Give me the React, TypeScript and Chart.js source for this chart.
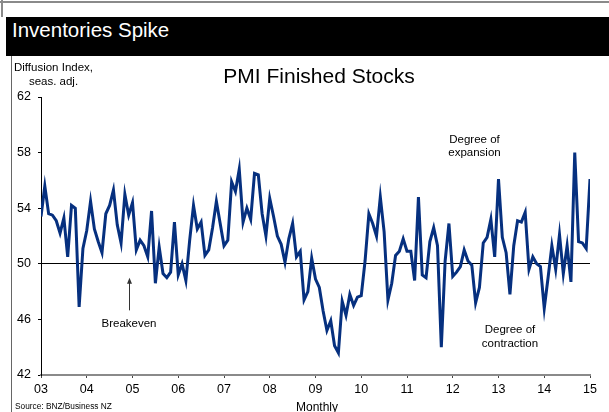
import React, { useEffect, useRef } from "react";
import { Chart, registerables } from "chart.js";

Chart.register(...registerables);

const yearLabels = ["03", "04", "05", "06", "07", "08", "09", "10", "11", "12", "13", "14", "15"];

// Monthly PMI finished stocks, Jan 2003 .. Jan 2015
const pmiFinishedStocks = [
  53.4, 55.6, 53.6, 53.5, 53.1, 52.2, 53.3, 50.5, 54.2, 54.0, 46.9, 51.1,
  52.4, 54.5, 52.5, 51.6, 50.8, 53.6, 54.2, 55.3, 52.8, 51.5, 55.0, 53.5,
  54.4, 51.0, 51.7, 51.3, 50.5, 53.8, 48.6, 51.2, 49.3, 49.0, 49.4, 53.0,
  49.2, 50.0, 48.8, 51.7, 54.2, 52.5, 53.0, 50.6, 51.0, 52.6, 54.5, 52.9,
  51.3, 51.7, 55.9, 55.2, 56.8, 53.0, 54.0, 53.2, 56.5, 56.4, 53.6, 52.0,
  54.7, 53.4, 52.0, 51.4, 50.1, 51.8, 52.9, 50.5, 50.9, 47.4, 48.0, 50.4,
  48.9, 48.3, 46.6, 45.2, 45.9, 44.1, 43.6, 47.3, 46.3, 47.8, 47.0, 47.6,
  47.7, 50.2, 53.6, 52.9, 52.0, 54.8, 52.3, 47.4, 48.6, 50.6, 50.9, 51.8,
  50.9, 50.9, 48.8, 54.8, 49.2, 49.0, 51.6, 52.6, 51.3, 44.0, 50.2, 52.9,
  49.1, 49.4, 49.8, 51.0, 50.2, 49.9, 47.2, 48.3, 51.5, 51.9, 53.2, 50.5,
  56.1, 51.9, 50.8, 47.8, 51.3, 53.1, 53.0, 53.7, 49.6, 50.5, 50.0, 49.8,
  46.8, 49.0, 51.3, 49.6, 52.1, 49.3, 51.3, 48.7, 58.0, 51.6, 51.5, 51.1,
  56.1,
];

const yMin = 42;
const yMax = 62;
const yStep = 4;
const breakeven = 50;

const FONT = "'Liberation Sans', Arial, sans-serif";

const arrowPlugin = {
  id: "breakevenArrow",
  afterDatasetsDraw(chart: any) {
    const { ctx, scales } = chart;
    const x = Math.round(scales.x.getPixelForValue(23)) + 0.5;
    const yTip = scales.y.getPixelForValue(49.0);
    const yEnd = scales.y.getPixelForValue(46.65);
    ctx.save();
    ctx.strokeStyle = "#333";
    ctx.fillStyle = "#333";
    ctx.lineWidth = 1;
    ctx.beginPath();
    ctx.moveTo(x, yEnd);
    ctx.lineTo(x, yTip + 4);
    ctx.stroke();
    ctx.beginPath();
    ctx.moveTo(x, yTip);
    ctx.lineTo(x - 2.5, yTip + 6);
    ctx.lineTo(x + 2.5, yTip + 6);
    ctx.closePath();
    ctx.fill();
    ctx.restore();
  },
};

function Txt(props: { left: number; top: number; size: number; width?: number; align?: string; color?: string; children: any }) {
  const w = props.width ?? 200;
  const left = props.align === "center" ? props.left - w / 2 : props.left;
  return (
    <div
      style={{
        position: "absolute",
        left,
        top: props.top,
        width: w,
        textAlign: (props.align as any) ?? "left",
        fontFamily: FONT,
        fontSize: props.size,
        lineHeight: `${props.size}px`,
        color: props.color ?? "#000",
        whiteSpace: "nowrap",
      }}
    >
      {props.children}
    </div>
  );
}

export default function App() {
  const canvasRef = useRef<HTMLCanvasElement | null>(null);

  useEffect(() => {
    if (!canvasRef.current) return;
    const chart = new Chart(canvasRef.current, {
      type: "line",
      data: {
        datasets: [
          {
            data: pmiFinishedStocks.map((v, i) => ({ x: i, y: v })),
            borderColor: "#06307f",
            borderWidth: 3,
            pointRadius: 0,
            tension: 0,
            fill: false,
          },
        ],
      },
      options: {
        animation: false,
        responsive: false,
        devicePixelRatio: 1,
        layout: { padding: { top: 41, right: 19, left: 0, bottom: 0 } },
        plugins: { legend: { display: false }, tooltip: { enabled: false }, title: { display: false } },
        scales: {
          x: {
            type: "linear",
            min: 0,
            max: (yearLabels.length - 1) * 12,
            afterFit: (s: any) => {
              s.height = 37;
            },
            ticks: {
              stepSize: 12,
              autoSkip: false,
              maxRotation: 0,
              padding: 4,
              color: "#000",
              font: { family: FONT, size: 12.5 },
              callback: (v: any) => yearLabels[Math.round(Number(v) / 12)] ?? "",
            },
            grid: { drawOnChartArea: false, drawTicks: true, tickLength: 3, tickColor: "#444" },
            border: { display: true, color: "#8a8a8a", width: 2 },
          },
          y: {
            min: yMin,
            max: yMax,
            afterFit: (s: any) => {
              s.width = 41;
            },
            ticks: {
              stepSize: yStep,
              padding: 7,
              color: "#000",
              font: { family: FONT, size: 12.5 },
            },
            grid: {
              drawOnChartArea: true,
              drawTicks: true,
              tickLength: 3,
              tickColor: "#000",
              color: (c: any) => (c.tick && c.tick.value === breakeven ? "#000" : "rgba(0,0,0,0)"),
              lineWidth: 1,
            },
            border: { display: true, color: "#000", width: 1 },
          },
        },
      },
      plugins: [arrowPlugin],
    });
    return () => chart.destroy();
  }, []);

  return (
    <div style={{ position: "absolute", left: 0, top: 0, width: 609, height: 412, overflow: "hidden", background: "#fff" }}>
      {/* frame lines */}
      <div style={{ position: "absolute", left: 0, top: 1, width: 609, height: 2, background: "#8a8a8a" }} />
      <div style={{ position: "absolute", left: 1, top: 0, width: 2, height: 17, background: "#8a8a8a" }} />
      <div style={{ position: "absolute", left: 6, top: 17, width: 603, height: 39, background: "#000" }} />
      <div style={{ position: "absolute", left: 11, top: 56, width: 1, height: 356, background: "#666" }} />

      <canvas
        ref={canvasRef}
        width={609}
        height={356}
        style={{ position: "absolute", left: 0, top: 56, width: 609, height: 356 }}
      />

      <Txt left={12} top={20.3} size={20.5} color="#fff" width={300}>Inventories Spike</Txt>
      <Txt left={53.5} top={62.3} size={11.5} align="center" width={120}>Diffusion Index,</Txt>
      <Txt left={53.5} top={75.8} size={11.5} align="center" width={120}>seas. adj.</Txt>
      <Txt left={319} top={65.2} size={21} align="center" width={300}>PMI Finished Stocks</Txt>
      <Txt left={474.5} top={133.8} size={11.5} align="center" width={120}>Degree of</Txt>
      <Txt left={474.5} top={147.3} size={11.5} align="center" width={120}>expansion</Txt>
      <Txt left={510} top={324.3} size={11.5} align="center" width={120}>Degree of</Txt>
      <Txt left={510} top={337.8} size={11.5} align="center" width={120}>contraction</Txt>
      <Txt left={129} top={318.3} size={11.5} align="center" width={120}>Breakeven</Txt>
      <Txt left={15} top={401.5} size={8.3} width={200}>Source: BNZ/Business NZ</Txt>
      <Txt left={317} top={401.3} size={12} align="center" width={120}>Monthly</Txt>
    </div>
  );
}
